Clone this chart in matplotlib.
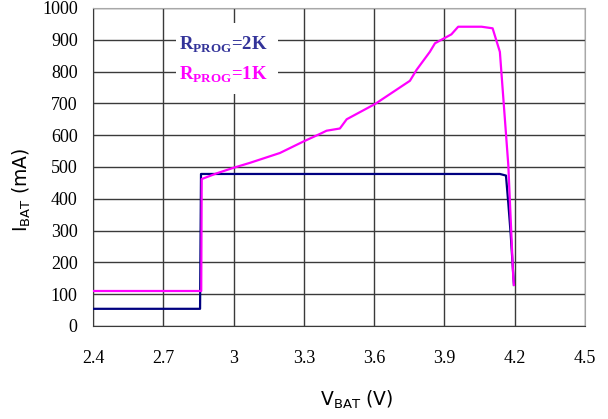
import matplotlib
matplotlib.use("Agg")
import matplotlib.pyplot as plt
from matplotlib.patches import Rectangle

# charge current vs battery voltage
v_2k = [2.4, 2.857, 2.861, 4.137, 4.163, 4.173, 4.183, 4.197]
i_2k = [54, 54, 478, 478, 473, 386, 291, 129]

v_1k = [2.4, 2.862, 2.864, 2.928, 2.998, 3.07, 3.198, 3.298, 3.369, 3.397,
        3.454, 3.483, 3.604, 3.753, 3.781, 3.838, 3.86, 3.93, 3.959, 4.059,
        4.106, 4.137, 4.173, 4.194, 4.197]
i_1k = [110, 110, 462, 480, 497, 513, 544, 580, 604, 614,
        621, 650, 698, 771, 805, 862, 889, 917, 941, 941,
        936, 862, 506, 155, 129]

x_ticks = [2.4, 2.7, 3.0, 3.3, 3.6, 3.9, 4.2, 4.5]
x_labels = ["2.4", "2.7", "3", "3.3", "3.6", "3.9", "4.2", "4.5"]
y_ticks = list(range(0, 1001, 100))

fig = plt.figure(figsize=(6.08, 4.19), dpi=100)
ax = fig.add_axes([0.153, 0.222, 0.809, 0.759])

ax.plot(v_2k, i_2k, color="#000080", lw=1.6, zorder=3)
ax.plot(v_1k, i_1k, color="#ff00ff", lw=1.6, zorder=4)

ax.set_xlim(2.4, 4.5)
ax.set_ylim(0, 1000)
ax.set_xticks(x_ticks)
ax.set_xticklabels(x_labels)
ax.set_yticks(y_ticks)
ax.grid(True, color="#3a3a3a", lw=1.0)
ax.set_axisbelow(True)
ax.tick_params(length=0, labelsize=13)
ax.tick_params(axis="x", pad=17)
ax.tick_params(axis="y", pad=11)
for lbl in ax.get_xticklabels() + ax.get_yticklabels():
    lbl.set_fontfamily("Liberation Serif")

for side in ("left", "bottom"):
    ax.spines[side].set_color("#3a3a3a")
for side in ("top", "right"):
    ax.spines[side].set_color("#a8a8a8")

# white box behind the legend text, hiding the grid
ax.add_patch(Rectangle((2.754, 730), 0.436, 223, facecolor="white",
                       edgecolor="none", zorder=2))
ax.text(2.766, 884, r"R$_{\mathregular{PROG}}$=2K", color="#333399",
        fontsize=13.5, fontweight="bold", family="Liberation Serif",
        va="center", zorder=5)
ax.text(2.766, 790, r"R$_{\mathregular{PROG}}$=1K", color="#ff00ff",
        fontsize=13.5, fontweight="bold", family="Liberation Serif",
        va="center", zorder=5)

fig.text(357 / 608, 1 - 400 / 419, r"V$_{\mathregular{BAT}}$ (V)",
         ha="center", va="center", fontsize=13.5, family="DejaVu Sans")
fig.text(22 / 608, 1 - 190 / 419, r"I$_{\mathregular{BAT}}$ (mA)",
         ha="center", va="center", rotation=90, fontsize=13.5,
         family="DejaVu Sans")

fig.savefig("out.png", dpi=100)
